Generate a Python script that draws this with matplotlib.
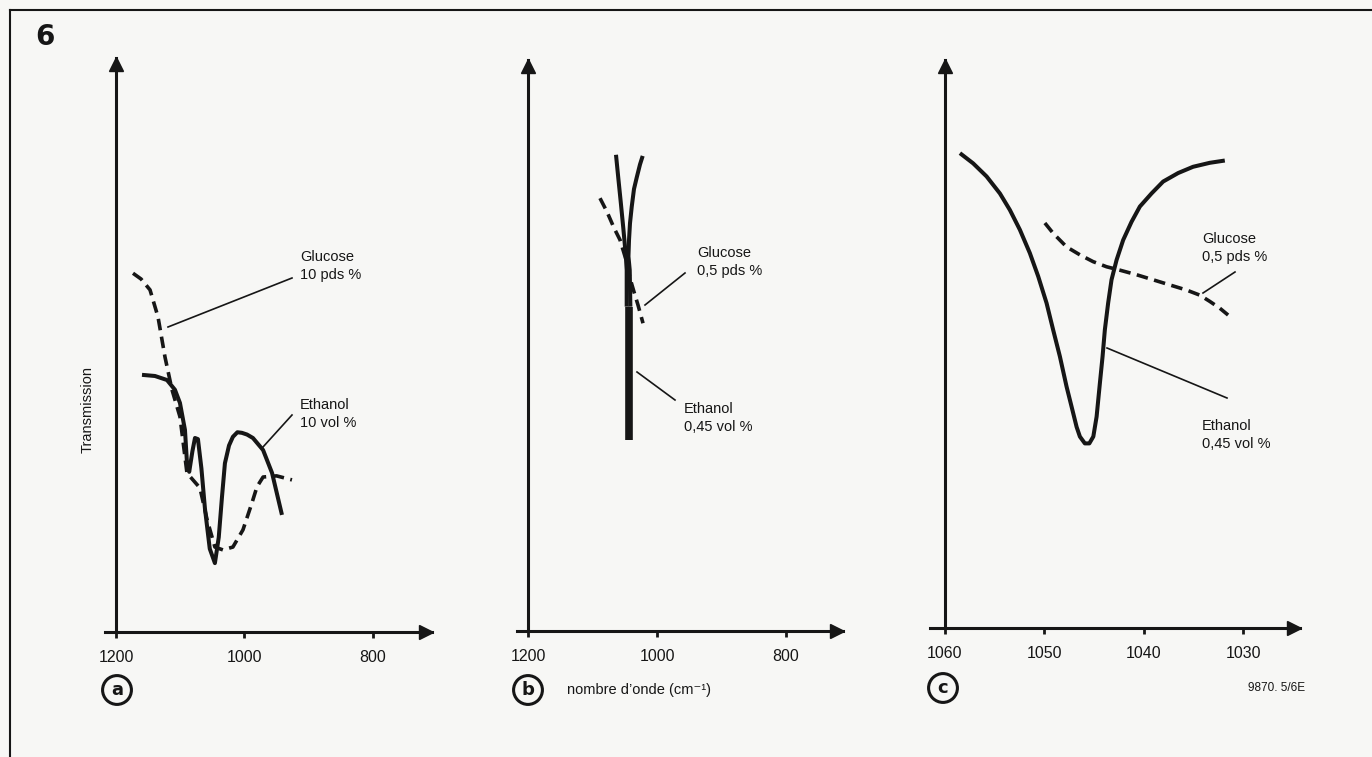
import matplotlib.pyplot as plt
from matplotlib.lines import Line2D
from matplotlib.transforms import offset_copy, blended_transform_factory

W, H = 1372, 757
INK = "#161616"
BG = "#f7f7f5"
FONT = ["Liberation Sans", "DejaVu Sans"]

# --- panel a : 10 % solutions, 1200..800 cm-1 ---
a_ticks = [1200, 1000, 800]
a_glu_wn = [1173.5, 1161, 1147, 1134.6, 1123.7, 1112.8, 1100.4, 1089.5, 1069.3, 1058, 1046,
            1033.5, 1018, 1002.3, 988.3, 980.5, 971, 950, 926]
a_glu_t = [62.5, 61.5, 59.6, 54.9, 47.9, 42.2, 37.5, 27.7, 25.1, 19.5, 14.8,
           14.3, 14.8, 17.8, 22.5, 25.3, 27, 27.2, 26.5]
a_eth_wn = [1159.5, 1139.3, 1120.6, 1108.2, 1100.4, 1092.6, 1089.5, 1086, 1081, 1077, 1072.4,
            1067, 1061.5, 1054, 1046, 1040, 1035, 1030.4, 1024, 1018, 1011, 1004, 996,
            986.8, 971, 957, 941.6]
a_eth_t = [44.8, 44.6, 43.9, 42.2, 39.9, 35.2, 29.5, 27.9, 31.5, 33.8, 33.6,
           28.5, 21.5, 14.5, 12.0, 16.5, 23.5, 29.4, 32.5, 34.0, 34.8, 34.7, 34.4,
           33.8, 31.7, 27.7, 20.4]

# --- panel b : 0.5 % solutions, 1200..800 cm-1 ---
b_ticks = [1200, 1000, 800]
b_eth_left_wn = [1063.6, 1060.0, 1056.3, 1052.3, 1048.5, 1047.0, 1047.0]
b_eth_left_t = [83.4, 79.3, 75.2, 70.6, 65.9, 63.2, 56.8]
b_eth_right_wn = [1022.2, 1026.4, 1031.5, 1035.7, 1039.2, 1041.9, 1043.4, 1044.3, 1042.3, 1041.3]
b_eth_right_t = [83.2, 81.7, 79.4, 77.4, 74.3, 71.4, 68.5, 65.6, 63.2, 56.8]
b_eth_bar_wn = 1043.9
b_eth_bar_t = [56.8, 33.4]
b_glu_wn = [1088.4, 1077.5, 1066.7, 1057.4, 1048, 1041.9, 1035.7, 1029.5, 1021.7]
b_glu_t = [75.8, 73.4, 70.6, 68.5, 65.0, 61.8, 59.4, 57.1, 53.9]

# --- panel c : 0.5 % solutions, zoom 1060..1030 cm-1 ---
c_ticks = [1060, 1050, 1040, 1030]
c_eth_wn = [1058.49, 1057.16, 1055.81, 1054.47, 1053.47, 1052.46, 1051.46, 1050.62, 1049.78,
            1049.12, 1048.44, 1047.77, 1047.27, 1046.76, 1046.43, 1045.93, 1045.48, 1045.08,
            1044.75, 1044.42, 1044.15, 1043.92, 1043.59, 1043.25, 1042.74, 1042.08, 1041.24,
            1040.40, 1039.23, 1038.06, 1036.55, 1035.05, 1033.37, 1031.86]
c_eth_t = [83.6, 81.8, 79.5, 76.5, 73.6, 70.1, 66.0, 61.9, 57.2,
           52.5, 47.8, 42.5, 39.0, 35.4, 33.7, 32.5, 32.5, 33.7,
           37.2, 43.1, 47.8, 52.5, 57.2, 61.3, 64.8, 68.3, 71.5,
           74.2, 76.5, 78.6, 80.1, 81.2, 81.9, 82.3]
c_glu_wn = [1049.95, 1049.12, 1047.77, 1046.43, 1045.10, 1043.75, 1042.41, 1040.74, 1039.06,
            1037.39, 1035.71, 1034.37, 1033.37, 1032.36, 1031.53]
c_glu_t = [71.3, 69.5, 67.1, 65.7, 64.5, 63.6, 63.0, 62.2, 61.3,
           60.4, 59.5, 58.6, 57.5, 56.3, 55.1]


def fx(px):
    return px / W


def fy(py):
    return 1 - py / H


fig = plt.figure(figsize=(W / 100, H / 100), dpi=100, facecolor=BG)


def make_panel(left, right, top, bottom, xlim, x0, ticks):
    ax = fig.add_axes([fx(left), fy(bottom), (right - left) / W, (bottom - top) / H])
    ax.set_xlim(xlim)
    ax.set_ylim(0, 100)
    ax.patch.set_visible(False)
    for s in ["top", "right"]:
        ax.spines[s].set_visible(False)
    ax.spines["left"].set_position(("data", x0))
    ax.spines["bottom"].set_position(("data", 0))
    for s in ["left", "bottom"]:
        ax.spines[s].set_linewidth(2.2)
        ax.spines[s].set_color(INK)
    ax.set_yticks([])
    ax.set_xticks(ticks)
    ax.set_xticklabels([str(t) for t in ticks], family=FONT, fontsize=11.5, color=INK)
    ax.tick_params(axis="x", direction="out", length=4, width=2, pad=9, color=INK)
    # arrow heads, pulled back so the tips end at the axis ends
    tx = offset_copy(ax.transAxes, fig=fig, x=-6, y=0, units="dots")
    ax.plot([1], [0], marker=">", ms=10, color=INK, clip_on=False, transform=tx)
    ty = offset_copy(blended_transform_factory(ax.transData, ax.transAxes),
                     fig=fig, x=0, y=-6, units="dots")
    ax.plot([x0], [1], marker="^", ms=10, color=INK, clip_on=False, transform=ty)
    return ax


sol = dict(color=INK, lw=2.9, solid_capstyle="butt", solid_joinstyle="round", clip_on=False)
dash = dict(color=INK, lw=2.6, ls=(0, (3.2, 1.8)), clip_on=False)

# panel a
ax_a = make_panel(105, 432, 58, 632, (1217.1, 708), 1200, a_ticks)
ax_a.plot(a_glu_wn, a_glu_t, **dash)
ax_a.plot(a_eth_wn, a_eth_t, **sol)

# panel b
ax_b = make_panel(517, 843, 60, 631, (1217.1, 711.6), 1200, b_ticks)
ax_b.plot(b_glu_wn, b_glu_t, **dash)
ax_b.plot(b_eth_left_wn, b_eth_left_t, **sol)
ax_b.plot(b_eth_right_wn, b_eth_right_t, **sol)
ax_b.plot([b_eth_bar_wn] * 2, b_eth_bar_t, color=INK, lw=5.5, solid_capstyle="butt")

# panel c
ax_c = make_panel(930, 1300, 60, 628, (1061.5, 1024.3), 1060, c_ticks)
ax_c.plot(c_glu_wn, c_glu_t, **dash)
ax_c.plot(c_eth_wn, c_eth_t, **sol)


def leader(p0, p1):
    fig.add_artist(Line2D([fx(p0[0]), fx(p1[0])], [fy(p0[1]), fy(p1[1])],
                          color=INK, lw=1.2))


def label(x, y, s):
    fig.text(fx(x), fy(y), s, family=FONT, fontsize=10.5, color=INK,
             ha="left", va="center", linespacing=1.45)


leader((168, 327), (292, 278))
label(300, 266, "Glucose\n10 pds %")
leader((263, 447), (292, 415))
label(300, 414, "Ethanol\n10 vol %")

leader((645, 305), (685, 273))
label(697, 262, "Glucose\n0,5 pds %")
leader((637, 372), (675, 400))
label(684, 418, "Ethanol\n0,45 vol %")

leader((1203, 293), (1235, 272))
label(1202, 248, "Glucose\n0,5 pds %")
leader((1107, 348), (1227, 398))
label(1202, 435, "Ethanol\n0,45 vol %")

fig.text(fx(88), fy(410), "Transmission", family=FONT, fontsize=10.5, color=INK,
         rotation=90, ha="center", va="center")
fig.text(fx(567), fy(690), "nombre d’onde (cm⁻¹)", family=FONT, fontsize=10.5, color=INK,
         ha="left", va="center")
fig.text(fx(1248), fy(688), "9870. 5/6E", family=FONT, fontsize=8.5, color=INK,
         ha="left", va="center")
fig.text(fx(45), fy(37), "6", family=["DejaVu Sans"], fontsize=20, fontweight="heavy",
         color=INK, ha="center", va="center")

for x, y, s in [(117, 690, "a"), (528, 690, "b"), (943, 688, "c")]:
    fig.text(fx(x), fy(y), s, family=["DejaVu Sans"], fontsize=13, fontweight="bold",
             color=INK, ha="center", va="center",
             bbox=dict(boxstyle="circle,pad=0.3", fc="none", ec=INK, lw=2.2))

# page frame
fig.add_artist(Line2D([fx(10), 1], [fy(10), fy(10)], color=INK, lw=1.5))
fig.add_artist(Line2D([fx(10), fx(10)], [fy(10), 0], color=INK, lw=1.5))

fig.savefig("out.png", dpi=100, facecolor=BG)
